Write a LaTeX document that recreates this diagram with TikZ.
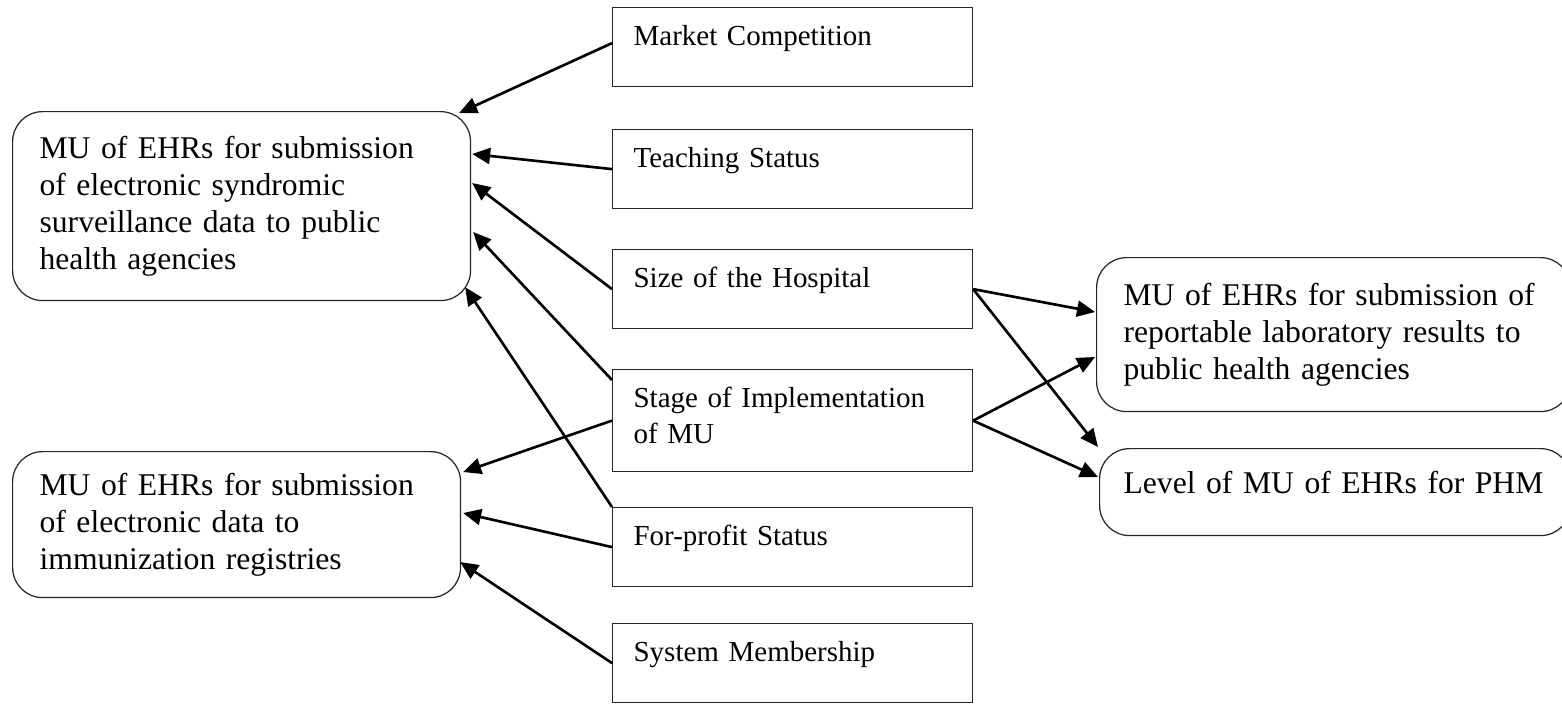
\documentclass[tikz,border=0pt]{standalone}
\usepackage{fontspec}
\setmainfont{Liberation Serif}
\usetikzlibrary{arrows.meta,calc}

\tikzset{
  outcome/.style={draw=black!85, line width=0.7pt, rounded corners=0.6cm, anchor=north west,
    align=left, inner ysep=0pt, inner xsep=0.54cm, font=\fontsize{18}{21}\selectfont},
  factor/.style={draw=black!85, line width=0.7pt, anchor=north west, align=left,
    text width=6.36cm, inner xsep=0.42cm, inner ysep=0pt, text height=0.76cm, text depth=0.82cm,
    font=\fontsize{16.5}{20.5}\selectfont},
  arr/.style={-{Triangle[length=0.36cm,width=0.32cm]}, line width=1.5pt}
}

\begin{document}
\begin{tikzpicture}[x=0.02cm, y=-0.02cm]
    \useasboundingbox (0,0) rectangle (1562,704);
    \node[outcome, text width=8.08cm, minimum height=3.78cm] (synd) at (12,111)
      {MU of EHRs for submission\\of electronic syndromic\\surveillance data to public\\health agencies};
    \node[outcome, text width=7.88cm, minimum height=2.92cm] (immu) at (12,451)
      {MU of EHRs for submission\\of electronic data to\\immunization registries};
    \node[factor] (market) at (612,7) {Market Competition};
    \node[factor] (teach) at (612,129) {Teaching Status};
    \node[factor] (size) at (612,249) {Size of the Hospital};
    \node[factor, text depth=1.28cm] (stage) at (612,369) {Stage of Implementation\\of MU};
    \node[factor] (profit) at (612,507) {For-profit Status};
    \node[factor] (member) at (612,623) {System Membership};
    \node[outcome, text width=8.4cm, minimum height=3.08cm] (lab) at (1096,257)
      {MU of EHRs for submission of\\reportable laboratory results to\\public health agencies};
    \node[outcome, text width=8.46cm, inner xsep=0.48cm, text height=0.9cm, text depth=0.84cm] (phm) at (1099,448)
      {Level of MU of EHRs for PHM};
    \draw[arr] ($(market.west)+(0,-4)$) -- ($(synd.north east)+(-12,2)$);
    \draw[arr] (teach.west) -- ($(synd.north east)+(1,43)$);
    \draw[arr] (size.west) -- ($(synd.north east)+(1,72)$);
    \draw[arr] ($(stage.north west)+(0,11)$) -- ($(synd.north east)+(2,121)$);
    \draw[arr] (profit.north west) -- ($(synd.south east)+(-6,-14)$);
    \draw[arr] (stage.west) -- ($(immu.north east)+(2,21)$);
    \draw[arr] (profit.west) -- ($(immu.north east)+(2,62)$);
    \draw[arr] (member.west) -- ($(immu.north east)+(-1,111)$);
    \draw[arr] (size.east) -- ($(lab.north west)+(-1,55)$);
    \draw[arr] (size.east) -- ($(phm.north west)+(-1,-1)$);
    \draw[arr] (stage.east) -- ($(lab.north west)+(-1,100)$);
    \draw[arr] (stage.east) -- ($(phm.north west)+(-1,29)$);
\end{tikzpicture}
\end{document}
